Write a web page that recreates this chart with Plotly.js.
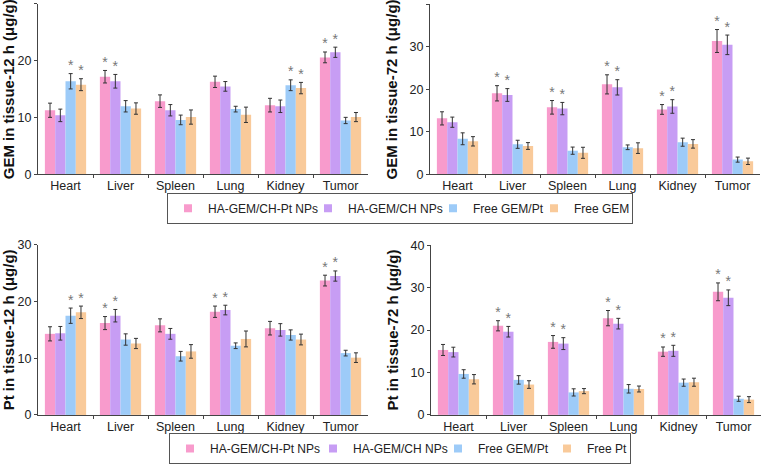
<!DOCTYPE html>
<html>
<head>
<meta charset="utf-8">
<script src="https://cdn.plot.ly/plotly-3.0.1.min.js"></script>
<style>html,body{margin:0;padding:0;background:#fff;}#chart{width:762px;height:464px;}</style>
</head>
<body>
<div id="chart"></div>
<script>
// ---- data ----
const categories = ['Heart', 'Liver', 'Spleen', 'Lung', 'Kidney', 'Tumor'];
const seriesGEM = ['HA-GEM/CH-Pt NPs', 'HA-GEM/CH NPs', 'Free GEM/Pt', 'Free GEM'];
const seriesPt = ['HA-GEM/CH-Pt NPs', 'HA-GEM/CH NPs', 'Free GEM/Pt', 'Free Pt'];
const colors = ['#F89BCC', '#C79DF4', '#9DCBF8', '#F9CA9A'];

const gem12Mean = [
  [11.3, 17.2, 12.9, 16.3, 12.2, 20.6],
  [10.4, 16.4, 11.3, 15.5, 12.0, 21.5],
  [16.4, 12.0, 9.6, 11.5, 15.7, 9.5],
  [15.8, 11.6, 10.1, 10.5, 15.2, 10.1]
];
const gem12Err = [
  [1.25, 1.1, 1.1, 1.0, 1.2, 0.95],
  [1.1, 1.2, 1.0, 0.85, 1.1, 0.9],
  [1.35, 1.0, 0.85, 0.5, 0.95, 0.55],
  [1.05, 1.0, 1.25, 1.35, 1.0, 0.8]
];
const gem12Sig = [
  [0, 1, 0, 0, 0, 1],
  [0, 1, 0, 0, 0, 1],
  [1, 0, 0, 0, 1, 0],
  [1, 0, 0, 0, 1, 0]
];

const gem72Mean = [
  [13.2, 19.1, 15.8, 21.2, 15.3, 31.4],
  [12.3, 18.7, 15.5, 20.5, 16.0, 30.5],
  [8.4, 7.1, 5.6, 6.4, 7.6, 3.5],
  [7.8, 6.7, 5.1, 6.2, 7.2, 3.1]
];
const gem72Err = [
  [1.55, 1.8, 1.6, 2.25, 1.15, 2.7],
  [1.2, 1.5, 1.45, 1.8, 1.6, 2.3],
  [1.4, 0.95, 0.85, 0.55, 0.95, 0.6],
  [1.1, 0.8, 1.3, 1.25, 1.0, 0.75]
];
const gem72Sig = [
  [0, 1, 1, 1, 1, 1],
  [0, 1, 1, 1, 1, 1],
  [0, 0, 0, 0, 0, 0],
  [0, 0, 0, 0, 0, 0]
];

const pt12Mean = [
  [14.3, 16.2, 15.8, 18.2, 15.3, 23.7],
  [14.4, 17.5, 14.3, 18.5, 15.0, 24.5],
  [17.5, 13.3, 10.35, 12.2, 14.1, 10.9],
  [18.1, 12.6, 11.2, 13.4, 13.3, 10.1]
];
const pt12Err = [
  [1.25, 1.15, 1.15, 1.0, 1.2, 0.95],
  [1.2, 1.1, 0.95, 0.85, 1.1, 0.9],
  [1.35, 1.0, 0.85, 0.5, 0.9, 0.5],
  [1.1, 0.9, 1.2, 1.4, 0.95, 0.85]
];
const pt12Sig = [
  [0, 1, 0, 1, 0, 1],
  [0, 1, 0, 1, 0, 1],
  [1, 0, 0, 0, 0, 0],
  [1, 0, 0, 0, 0, 0]
];

const pt72Mean = [
  [15.3, 21.0, 17.2, 22.8, 14.9, 29.0],
  [14.8, 19.6, 16.8, 21.5, 15.1, 27.6],
  [9.65, 8.25, 5.3, 6.15, 7.6, 3.8],
  [8.4, 7.15, 5.6, 6.1, 7.7, 3.6]
];
const pt72Err = [
  [1.3, 1.2, 1.5, 1.8, 1.1, 2.1],
  [1.15, 1.25, 1.4, 1.25, 1.3, 1.85],
  [1.0, 1.0, 0.85, 1.0, 0.85, 0.6],
  [1.1, 0.9, 0.6, 0.7, 0.95, 0.7]
];
const pt72Sig = [
  [0, 1, 1, 1, 1, 1],
  [0, 1, 1, 1, 1, 1],
  [0, 0, 0, 0, 0, 0],
  [0, 0, 0, 0, 0, 0]
];

const yTitles = ['GEM in tissue-12 h (μg/g)', 'GEM in tissue-72 h (μg/g)', 'Pt in tissue-12 h (μg/g)', 'Pt in tissue-72 h (μg/g)'];

// ---- build ----
const FONT = 'Liberation Sans, Arial, sans-serif';
const barW = 0.1875;
const legendEntryW = {legend: [95, 80, 56, 53], legend2: [98, 80, 64, 38]};
const traces = [];
const panels = [
  {mean: gem12Mean, err: gem12Err, sig: gem12Sig, names: seriesGEM, ax: '', legend: 'legend', show: true},
  {mean: gem72Mean, err: gem72Err, sig: gem72Sig, names: seriesGEM, ax: '2', legend: 'legend', show: false},
  {mean: pt12Mean, err: pt12Err, sig: pt12Sig, names: seriesPt, ax: '3', legend: 'legend2', show: true},
  {mean: pt72Mean, err: pt72Err, sig: pt72Sig, names: seriesPt, ax: '4', legend: 'legend2', show: false}
];
panels.forEach(function (p) {
  for (let s = 0; s < 4; s++) {
    const xs = categories.map(function (c, i) { return i + (s - 1.5) * barW; });
    traces.push({
      type: 'bar', x: xs, y: p.mean[s], width: barW,
      name: p.names[s], legendgroup: p.legend + s, showlegend: false,
      xaxis: 'x' + p.ax, yaxis: 'y' + p.ax,
      marker: {color: colors[s], line: {width: 0}},
      error_y: {type: 'data', array: p.err[s], visible: true, color: '#333', thickness: 1, width: 2}
    });
    if (p.show) {
      // legend swatch entry (legend only, no data marks)
      traces.push({
        type: 'scatter', mode: 'markers', x: [null], y: [null],
        name: p.names[s], legendgroup: p.legend + s, showlegend: true, legend: p.legend,
        legendwidth: legendEntryW[p.legend][s],
        marker: {symbol: 'square', size: 8, color: colors[s], line: {width: 0}},
        xaxis: 'x' + p.ax, yaxis: 'y' + p.ax, hoverinfo: 'skip'
      });
    }
    const sx = [], sy = [];
    categories.forEach(function (c, i) {
      if (p.sig[s][i]) { sx.push(xs[i]); sy.push(p.mean[s][i] + p.err[s][i]); }
    });
    if (sx.length) {
      traces.push({
        type: 'scatter', mode: 'text', x: sx, y: sy, text: sx.map(function () { return '*'; }),
        textposition: 'top center', textfont: {family: FONT, size: 14, color: '#777'},
        cliponaxis: false, showlegend: false, hoverinfo: 'skip',
        xaxis: 'x' + p.ax, yaxis: 'y' + p.ax
      });
    }
  }
});

function xAxis(domain, anchor) {
  return {
    domain: domain, anchor: anchor, range: [-0.5, categories.length - 0.5],
    tickmode: 'array', tickvals: categories.map(function (c, i) { return i; }), ticktext: categories,
    ticks: '', showline: true, linecolor: '#444', linewidth: 1, showgrid: false, zeroline: false,
    tickfont: {family: FONT, size: 12.5, color: '#222'},
    minor: {tickvals: categories.slice(1).map(function (c, i) { return i + 0.5; }), ticks: 'outside', ticklen: 3, tickcolor: '#444', showgrid: false}
  };
}
function yAxis(domain, anchor, max, title) {
  return {
    domain: domain, anchor: anchor, range: [0, max], dtick: 10, tick0: 0,
    ticks: 'outside', ticklen: 3, tickcolor: '#444', showline: true, linecolor: '#444', linewidth: 1,
    showgrid: false, zeroline: false,
    tickfont: {family: FONT, size: 12.5, color: '#222'},
    title: {text: title, standoff: 8, font: {family: FONT, size: 15, color: '#111', weight: 'bold'}}
  };
}
function legendCfg(yc) {
  return {
    orientation: 'h', x: 400 / 762, xanchor: 'center', y: yc, yanchor: 'middle',
    bordercolor: '#555', borderwidth: 1, bgcolor: '#fff',
    font: {family: FONT, size: 12, color: '#222'},
    itemwidth: 30, traceorder: 'normal'
  };
}

const W = 762, H = 464;
const layout = {
  width: W, height: H, autosize: false,
  margin: {l: 0, r: 0, t: 0, b: 0},
  paper_bgcolor: '#fff', plot_bgcolor: 'rgba(0,0,0,0)',
  barmode: 'overlay', showlegend: true,
  font: {family: FONT, size: 12, color: '#222'},
  xaxis: xAxis([38 / W, 368 / W], 'y'),
  yaxis: yAxis([1 - 176 / H, 1 - 4 / H], 'x', 30, yTitles[0]),
  xaxis2: xAxis([430 / W, 760 / W], 'y2'),
  yaxis2: yAxis([1 - 176 / H, 1 - 4.5 / H], 'x2', 40, yTitles[1]),
  xaxis3: xAxis([38 / W, 368 / W], 'y3'),
  yaxis3: yAxis([1 - 418.5 / H, 1 - 247 / H], 'x3', 30, yTitles[2]),
  xaxis4: xAxis([431 / W, 761 / W], 'y4'),
  yaxis4: yAxis([1 - 418.5 / H, 1 - 247.3 / H], 'x4', 40, yTitles[3]),
  legend: legendCfg(1 - 210 / H),
  legend2: legendCfg(1 - 452.5 / H)
};

Plotly.newPlot('chart', traces, layout, {displayModeBar: false, staticPlot: true});
</script>
</body>
</html>
